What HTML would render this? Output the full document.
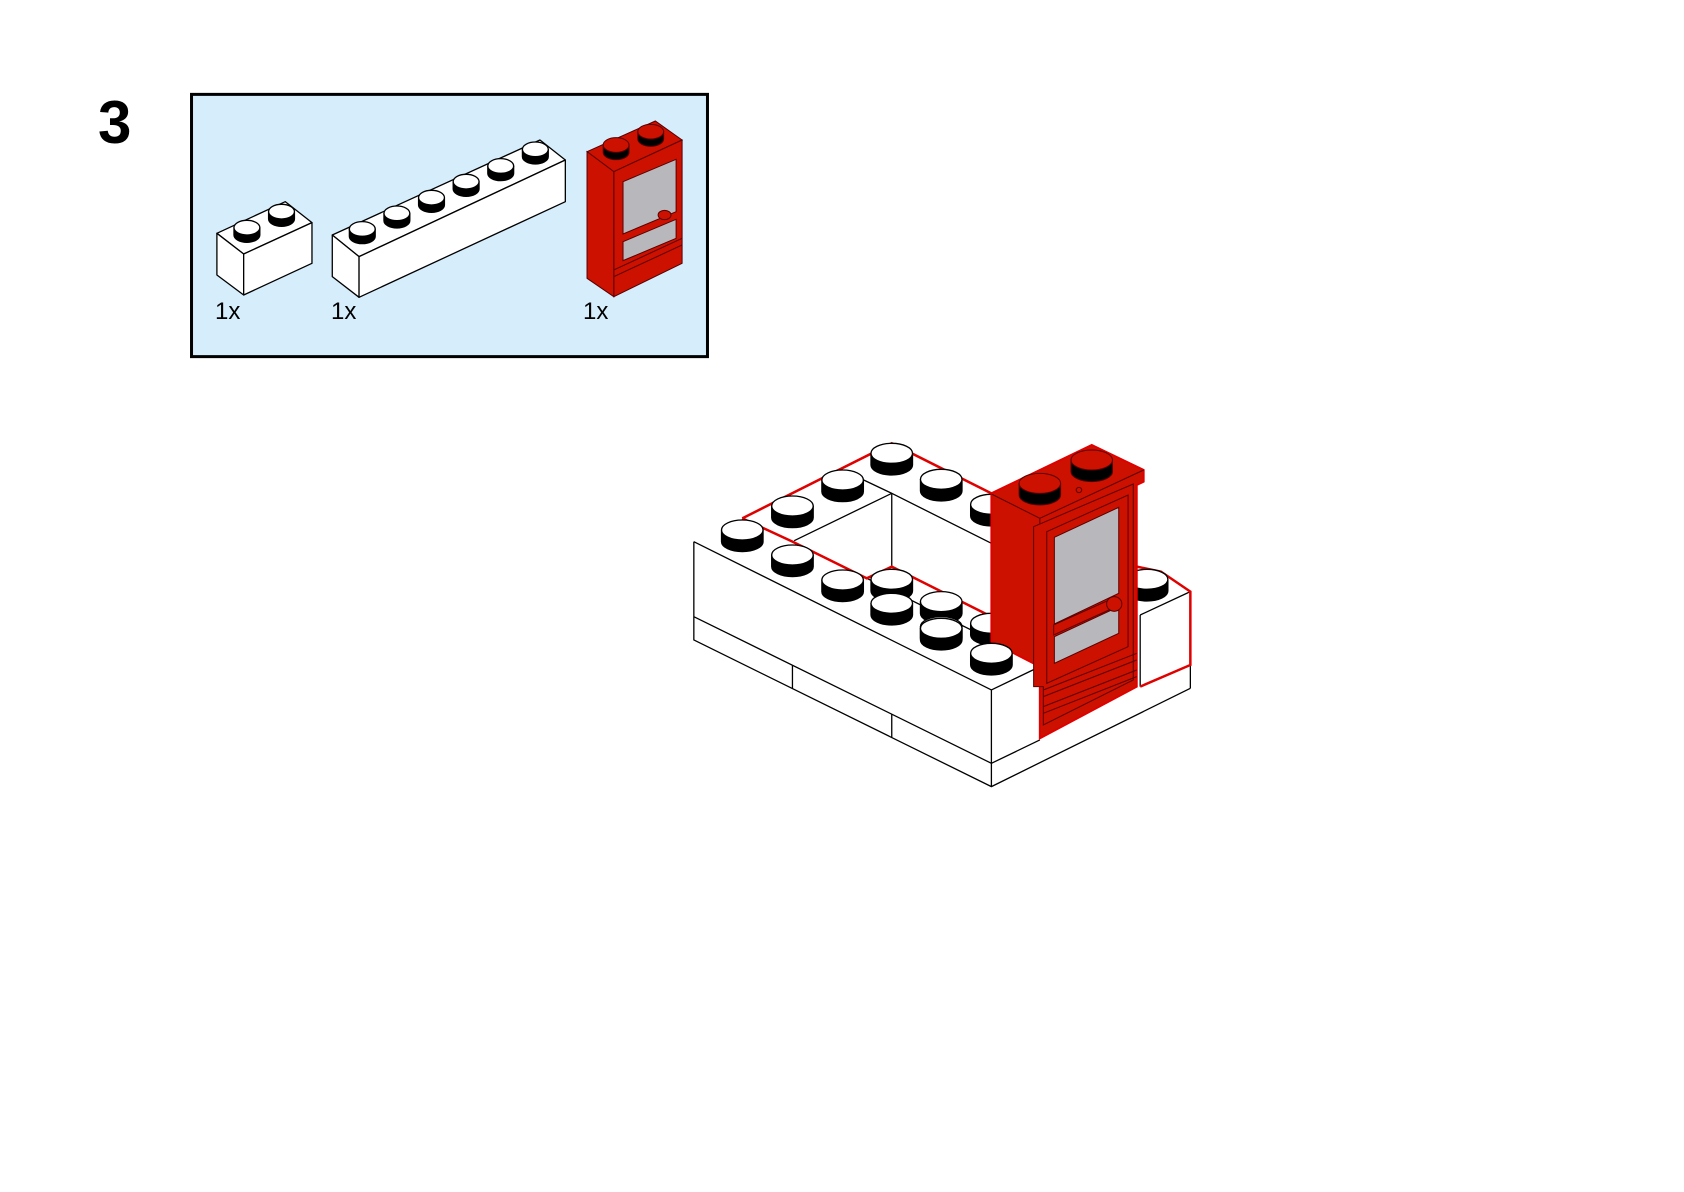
<!DOCTYPE html>
<html><head><meta charset="utf-8"><style>
html,body{margin:0;padding:0;background:#fff;}
svg{display:block}
.l{stroke:#000;stroke-width:1.3;vector-effect:non-scaling-stroke;stroke-linejoin:round}
.r{stroke:#e00000;stroke-width:2.5;vector-effect:non-scaling-stroke;fill:none}
.d{stroke:#5a0000;stroke-width:1;vector-effect:non-scaling-stroke}
</style></head><body>
<svg width="1684" height="1192" viewBox="0 0 1684 1192" xmlns="http://www.w3.org/2000/svg">
<defs>
 <g id="st"><path class="l" d="M-60,0 V35 A60,30 0 0 0 60,35 V0 Z" fill="#000"/><ellipse class="l" cx="0" cy="0" rx="60" ry="30" fill="#fff"/></g>
 <g id="rs"><path class="d" d="M-60,0 V35 A60,30 0 0 0 60,35 V0 Z" fill="#000"/><ellipse class="d" cx="0" cy="0" rx="60" ry="30" fill="#cc1100"/></g>
 <g id="ss"><path class="l" d="M-28,0 V22 A28,22 0 0 0 28,22 V0 Z" fill="#000"/><ellipse class="l" cx="0" cy="0" rx="28" ry="22" fill="#fff"/></g>
 <g id="sr"><path class="d" d="M-28,0 V22 A28,22 0 0 0 28,22 V0 Z" fill="#000"/><ellipse class="d" cx="0" cy="0" rx="28" ry="22" fill="#cc1100"/></g>
</defs>
<text x="98" y="143" font-family="Liberation Sans, sans-serif" font-weight="bold" font-size="60">3</text>
<g transform="translate(0,60) scale(0.4615,0.3333)">
 <rect x="415" y="103" width="1118" height="787" fill="#d6edfc" stroke="#000" stroke-width="3" vector-effect="non-scaling-stroke"/>
 <polygon class="l" fill="#fff" points="470,520 618,425 676,488 528,582"/>
 <polygon class="l" fill="#fff" points="470,520 528,582 528,705 470,645"/>
 <polygon class="l" fill="#fff" points="528,582 676,488 676,610 528,705"/>
 <use href="#ss" x="610" y="455"/><use href="#ss" x="535" y="503"/>
 <polygon class="l" fill="#fff" points="720,525 1170,240 1225,300 778,590"/>
 <polygon class="l" fill="#fff" points="720,525 778,590 778,712 720,650"/>
 <polygon class="l" fill="#fff" points="778,590 1225,300 1225,425 778,712"/>
 <use href="#ss" x="1160" y="268"/><use href="#ss" x="1085" y="318"/><use href="#ss" x="1010" y="365"/><use href="#ss" x="935" y="413"/><use href="#ss" x="860" y="460"/><use href="#ss" x="785" y="507"/>
 <polygon class="d" fill="#cc1100" points="1272,275 1420,183 1478,240 1330,335"/>
 <polygon class="d" fill="#cc1100" points="1330,335 1478,240 1478,610 1330,710"/>
 <polygon class="d" fill="#cc1100" points="1272,275 1330,335 1330,710 1272,655"/>
 <polygon class="d" fill="#b8b8bc" points="1350,365 1465,298 1465,455 1350,522"/>
 <polygon class="d" fill="#b8b8bc" points="1350,545 1465,478 1465,535 1350,602"/>
 <line class="d" x1="1330" y1="630" x2="1478" y2="535"/><line class="d" x1="1330" y1="650" x2="1478" y2="555"/>
 <circle class="d" cx="1440" cy="465" r="14" fill="#cc1100"/>
 <use href="#sr" x="1410" y="215"/><use href="#sr" x="1335" y="255"/>
</g>
<text x="215" y="319" font-family="Liberation Sans, sans-serif" font-size="24">1x</text>
<text x="331" y="319" font-family="Liberation Sans, sans-serif" font-size="24">1x</text>
<text x="583" y="319" font-family="Liberation Sans, sans-serif" font-size="24">1x</text>

<g transform="translate(680,420) scale(0.346,0.3333)">
 <polygon fill="#fff" points="40,365 180,295 612,70 900,220 1320,440 1475,515 1475,805 900,1100 40,660"/>
 <polyline class="l" fill="none" points="40,365 900,810 900,1100 40,660 40,365"/>
 <line class="l" x1="40" y1="590" x2="900" y2="1030"/>
 <line class="l" x1="325" y1="736" x2="325" y2="806"/>
 <line class="l" x1="612" y1="883" x2="612" y2="953"/>
 <line class="l" x1="900" y1="810" x2="1040" y2="740"/>
 <line class="l" x1="900" y1="1100" x2="1475" y2="805"/>
 <line class="l" x1="900" y1="1030" x2="1040" y2="960"/>
 <line class="l" x1="1475" y1="515" x2="1475" y2="805"/>
 <line class="l" x1="1330" y1="585" x2="1475" y2="515"/>
 <line class="l" x1="1330" y1="585" x2="1330" y2="800"/>
 <polyline class="l" fill="none" points="330,362 612,220 900,370"/>
 <line class="l" x1="612" y1="220" x2="612" y2="440"/>
 <line class="l" x1="470" y1="150" x2="612" y2="220"/>
 <line class="l" x1="540" y1="475" x2="900" y2="660"/>
 <polyline class="r" points="180,295 612,70 900,220"/>
 <polyline class="r" points="180,295 325,365 540,475 612,440 900,590"/>
 <polyline class="r" points="1320,440 1390,455 1475,515 1475,735 1330,800"/>
 <use href="#st" x="612" y="100"/><use href="#st" x="470" y="180"/><use href="#st" x="755" y="178"/>
 <use href="#st" x="325" y="258"/><use href="#st" x="900" y="253"/><use href="#st" x="180" y="330"/>
 <use href="#st" x="325" y="405"/><use href="#st" x="470" y="480"/><use href="#st" x="612" y="478"/>
 <use href="#st" x="755" y="545"/><use href="#st" x="612" y="550"/><use href="#st" x="900" y="610"/>
 <use href="#st" x="755" y="620"/><use href="#st" x="1350" y="478"/>
 <polygon fill="#cc1100" stroke="#e00000" stroke-width="2" vector-effect="non-scaling-stroke" points="900,220 1190,75 1340,150 1340,185 1320,195 1320,800 1040,955 1040,740 900,665"/>
 <polyline class="d" fill="none" points="900,222 1040,295 1340,150"/>
 <line class="d" x1="1040" y1="295" x2="1040" y2="325"/>
 <polygon class="d" fill="#cc1100" points="1022,320 1310,192 1310,780 1050,915 1050,800 1022,800"/>
 <polygon class="d" fill="#cc1100" points="1060,335 1295,225 1295,680 1060,790"/>
 <polygon class="d" fill="#b8b8bc" points="1082,352 1268,262 1268,520 1082,612"/>
 <polygon class="d" fill="#b8b8bc" points="1082,650 1268,560 1268,640 1082,730"/>
 <polygon class="d" fill="#cc1100" points="1080,615 1240,540 1240,570 1080,645"/>
 <circle class="d" cx="1255" cy="552" r="22" fill="#cc1100"/>
 <line class="d" x1="1050" y1="810" x2="1320" y2="700"/>
 <line class="d" x1="1050" y1="830" x2="1320" y2="720"/>
 <line class="d" x1="1050" y1="860" x2="1320" y2="750"/>
 <line class="d" x1="1050" y1="880" x2="1320" y2="770"/>
 <circle class="d" cx="1153" cy="210" r="8" fill="#cc1100"/>
 <use href="#rs" x="1190" y="120"/><use href="#rs" x="1040" y="190"/>
 <use href="#st" x="755" y="625"/><use href="#st" x="900" y="700"/>
</g>
</svg>
</body></html>
